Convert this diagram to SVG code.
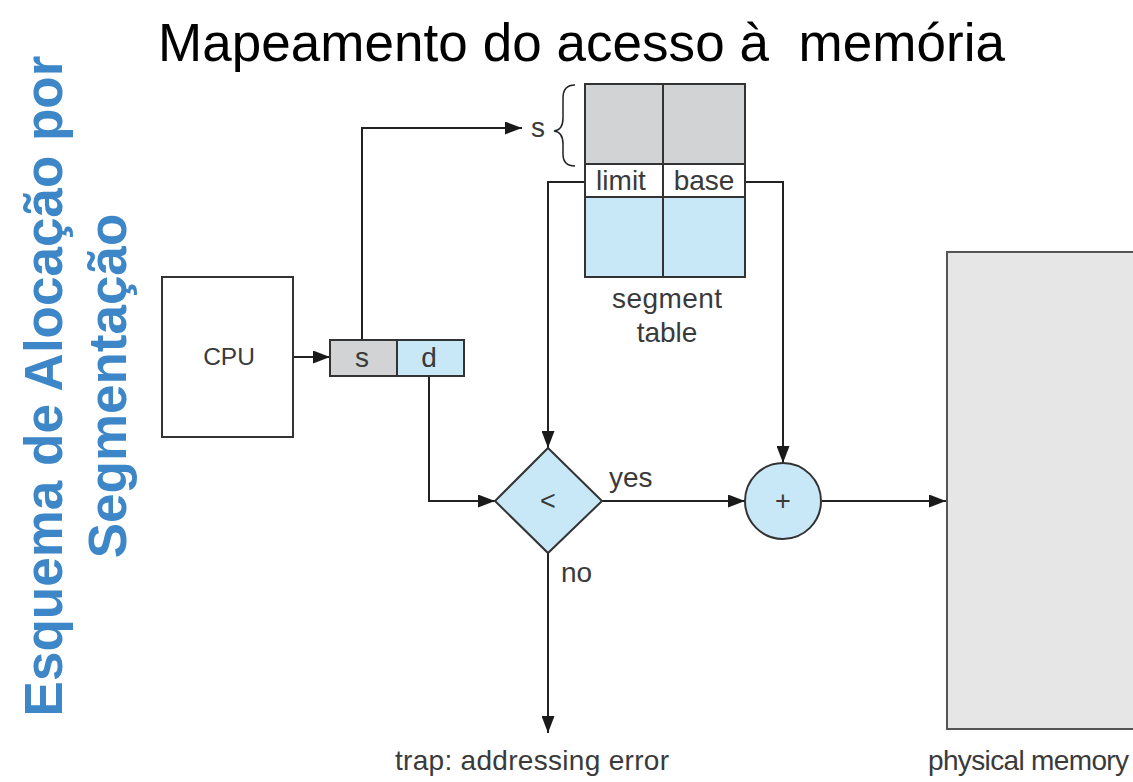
<svg xmlns="http://www.w3.org/2000/svg" width="1133" height="782" viewBox="0 0 1133 782">
<style>
.ln{fill:none;stroke:#222;stroke-width:2}
.bx{stroke:#333;stroke-width:2}
.gray{fill:#d1d3d4}
.blue{fill:#c8e8f8}
.lbl{font-family:"Liberation Sans",Arial,sans-serif;font-size:28px;fill:#3a3a3a}
.side{font-family:"Liberation Sans",Arial,sans-serif;font-size:53px;font-weight:bold;fill:#3d87c8}
</style>
<defs>
<marker id="ah" viewBox="0 0 17 13" refX="17" refY="6.5" markerWidth="17" markerHeight="13" markerUnits="userSpaceOnUse" orient="auto">
<path d="M0,0 L17,6.5 L0,13 Z" fill="#1a1a1a"/>
</marker>
</defs>
<rect width="1133" height="782" fill="#fff"/>
<text x="158" y="61" xml:space="preserve" textLength="847" style="font-family:'Liberation Sans',Arial,sans-serif;font-size:53px;fill:#000">Mapeamento do acesso à  memória</text>
<g id="side-title">
<text class="side" transform="translate(62,386) rotate(-90)" text-anchor="middle">Esquema de Alocação por</text>
<text class="side" transform="translate(126,386) rotate(-90)" text-anchor="middle">Segmentação</text>
</g>
<g id="connectors">
<path class="ln" d="M293,357 H330" marker-end="url(#ah)"/>
<path class="ln" d="M362,340 V128 H522" marker-end="url(#ah)"/>
<path class="ln" d="M585,182 H548 V448" marker-end="url(#ah)"/>
<path class="ln" d="M745,182 H783 V463" marker-end="url(#ah)"/>
<path class="ln" d="M429,376 V501 H495" marker-end="url(#ah)"/>
<path class="ln" d="M602,501 H745" marker-end="url(#ah)"/>
<path class="ln" d="M822,501 H946" marker-end="url(#ah)"/>
<path class="ln" d="M548,553 V733" marker-end="url(#ah)"/>
<text class="lbl" x="609" y="487">yes</text>
<text class="lbl" x="561" y="582">no</text>
</g>
<g id="cpu">
<rect x="162" y="277" width="131" height="160" fill="#fff" class="bx"/>
<text class="lbl" x="229" y="365" text-anchor="middle" style="font-size:24.5px">CPU</text>
</g>
<g id="address">
<rect x="330" y="340" width="67" height="36" class="gray bx"/>
<rect x="397" y="340" width="67" height="36" class="blue bx"/>
<text class="lbl" x="362" y="367" text-anchor="middle">s</text>
<text class="lbl" x="429" y="367" text-anchor="middle">d</text>
</g>
<g id="segment-table">
<rect x="585" y="84" width="160" height="80" class="gray bx"/>
<rect x="585" y="164" width="160" height="33" fill="#fff" class="bx"/>
<rect x="585" y="197" width="160" height="80" class="blue bx"/>
<line x1="663" y1="84" x2="663" y2="277" class="bx"/>
<text class="lbl" x="621" y="190" text-anchor="middle">limit</text>
<text class="lbl" x="704" y="190" text-anchor="middle">base</text>
<path class="ln" d="M575,85 Q563,85 563,98 L563,118 Q563,130 554,131 Q563,132 563,144 L563,154 Q563,166 575,166" style="stroke-width:1.5"/>
<text class="lbl" x="538" y="137" text-anchor="middle">s</text>
<text class="lbl" x="667" y="308" text-anchor="middle" textLength="110">segment</text>
<text class="lbl" x="667" y="342" text-anchor="middle">table</text>
</g>
<g id="compare">
<path d="M548,448 L602,501 L548,553 L495,501 Z" class="blue bx"/>
<text class="lbl" x="548" y="510" text-anchor="middle" style="font-size:27px">&lt;</text>
</g>
<g id="adder">
<circle cx="783" cy="501" r="38" class="blue bx"/>
<text class="lbl" x="783" y="510" text-anchor="middle" style="font-size:27px">+</text>
</g>
<g id="physical-memory">
<rect x="947" y="252" width="200" height="477" fill="#e6e6e6" stroke="#555" stroke-width="2"/>
<text class="lbl" x="928" y="770" textLength="201">physical memory</text>
</g>
<g id="trap">
<text class="lbl" x="395" y="770" textLength="274">trap: addressing error</text>
</g>
</svg>
